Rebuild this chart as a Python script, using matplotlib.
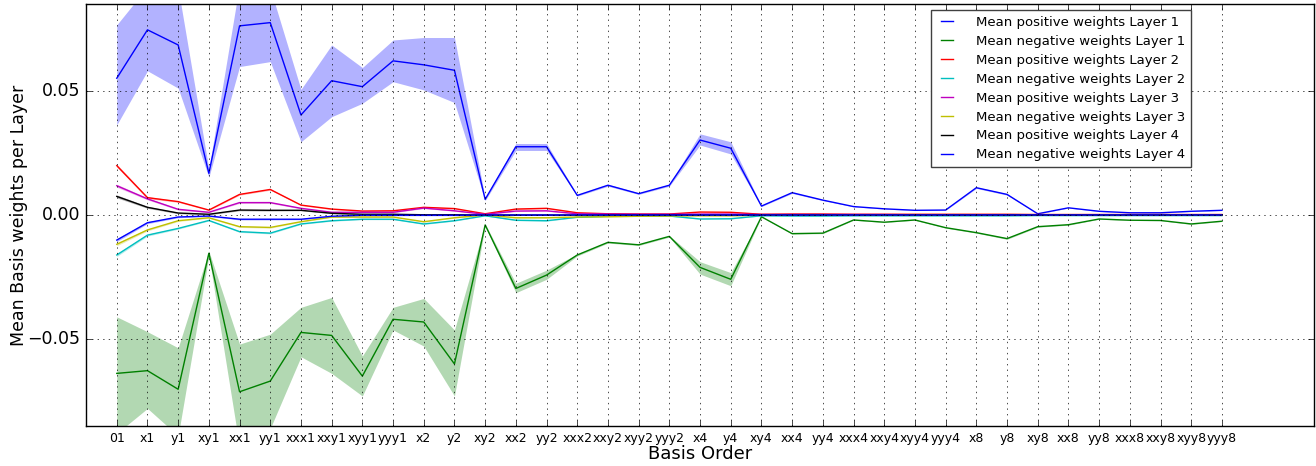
import matplotlib
matplotlib.use('Agg')
import matplotlib.pyplot as plt
import numpy as np

# Basis order labels (x axis)
cats = ['01', 'x1', 'y1', 'xy1', 'xx1', 'yy1', 'xxx1', 'xxy1', 'xyy1', 'yyy1',
        'x2', 'y2', 'xy2', 'xx2', 'yy2', 'xxx2', 'xxy2', 'xyy2', 'yyy2',
        'x4', 'y4', 'xy4', 'xx4', 'yy4', 'xxx4', 'xxy4', 'xyy4', 'yyy4',
        'x8', 'y8', 'xy8', 'xx8', 'yy8', 'xxx8', 'xxy8', 'xyy8', 'yyy8']

# Layer 1 means and band edges
pos1 = [0.0551, 0.0746, 0.0685, 0.0168, 0.0762, 0.0775, 0.0403, 0.0541, 0.0517, 0.0621,
        0.0605, 0.0583, 0.0063, 0.0275, 0.0275, 0.0079, 0.0120, 0.0086, 0.0120,
        0.0302, 0.0269, 0.0036, 0.0090, 0.0060, 0.0034, 0.0025, 0.0019, 0.0020,
        0.0110, 0.0083, 0.0005, 0.0029, 0.0015, 0.0009, 0.0009, 0.0015, 0.0019]
pos1_hi = [0.0766, 0.0919, 0.0914, 0.0185, 0.0930, 0.0913, 0.0506, 0.0685, 0.0594, 0.0705,
           0.0715, 0.0715, 0.0068, 0.0288, 0.0288, 0.0082, 0.0124, 0.0089, 0.0124,
           0.0327, 0.0295, 0.0038, 0.0093, 0.0062, 0.0035, 0.0026, 0.0020, 0.0021,
           0.0113, 0.0086, 0.0006, 0.0030, 0.0016, 0.0010, 0.0010, 0.0016, 0.0020]
pos1_lo = [0.0363, 0.0581, 0.0511, 0.0152, 0.0598, 0.0618, 0.0295, 0.0396, 0.0450, 0.0537,
           0.0504, 0.0453, 0.0058, 0.0260, 0.0260, 0.0076, 0.0116, 0.0083, 0.0116,
           0.0282, 0.0246, 0.0034, 0.0087, 0.0058, 0.0033, 0.0024, 0.0018, 0.0019,
           0.0107, 0.0080, 0.0004, 0.0028, 0.0014, 0.0008, 0.0008, 0.0014, 0.0018]

neg1 = [-0.0638, -0.0627, -0.0702, -0.0154, -0.0712, -0.0669, -0.0473, -0.0485, -0.0649, -0.0420,
        -0.0431, -0.0600, -0.0040, -0.0296, -0.0242, -0.0161, -0.0110, -0.0120, -0.0086,
        -0.0211, -0.0259, -0.0007, -0.0075, -0.0073, -0.0020, -0.0029, -0.0020, -0.0051,
        -0.0071, -0.0095, -0.0047, -0.0039, -0.0016, -0.0021, -0.0022, -0.0036, -0.0025]
neg1_hi = [-0.0410, -0.0470, -0.0535, -0.0145, -0.0520, -0.0480, -0.0372, -0.0332, -0.0568, -0.0372,
           -0.0336, -0.0463, -0.0035, -0.0275, -0.0222, -0.0157, -0.0107, -0.0117, -0.0083,
           -0.0188, -0.0232, -0.0006, -0.0073, -0.0071, -0.0019, -0.0028, -0.0019, -0.0049,
           -0.0069, -0.0092, -0.0045, -0.0037, -0.0015, -0.0020, -0.0021, -0.0034, -0.0024]
neg1_lo = [-0.0880, -0.0779, -0.0890, -0.0165, -0.0935, -0.0860, -0.0571, -0.0638, -0.0729, -0.0463,
           -0.0528, -0.0729, -0.0045, -0.0313, -0.0259, -0.0165, -0.0113, -0.0123, -0.0089,
           -0.0238, -0.0285, -0.0008, -0.0077, -0.0075, -0.0021, -0.0030, -0.0021, -0.0053,
           -0.0073, -0.0098, -0.0049, -0.0041, -0.0017, -0.0022, -0.0023, -0.0038, -0.0026]

# Layers 2-4
pos2 = [0.0199, 0.0070, 0.0054, 0.0020, 0.0083, 0.0103, 0.0040, 0.0024, 0.0016, 0.0017,
        0.0031, 0.0026, 0.0005, 0.0024, 0.0027, 0.0009, 0.0005, 0.0004, 0.0004,
        0.0012, 0.0011, 0.0003, 0.0004, 0.0004, 0.0003, 0.0003, 0.0003, 0.0003,
        0.0003, 0.0003, 0.0002, 0.0002, 0.0002, 0.0002, 0.0002, 0.0002, 0.0002]
neg2 = [-0.0161, -0.0081, -0.0054, -0.0022, -0.0067, -0.0073, -0.0036, -0.0023, -0.0017, -0.0017,
        -0.0036, -0.0023, -0.0003, -0.0021, -0.0023, -0.0009, -0.0005, -0.0004, -0.0004,
        -0.0016, -0.0015, -0.0003, -0.0004, -0.0004, -0.0003, -0.0003, -0.0003, -0.0003,
        -0.0003, -0.0003, -0.0002, -0.0002, -0.0002, -0.0002, -0.0002, -0.0002, -0.0002]
pos3 = [0.0118, 0.0065, 0.0023, 0.0011, 0.0050, 0.0050, 0.0027, 0.0011, 0.0011, 0.0011,
        0.0028, 0.0017, 0.0003, 0.0016, 0.0017, 0.0005, 0.0004, 0.0003, 0.0003,
        0.0004, 0.0004, 0.0002, 0.0002, 0.0002, 0.0002, 0.0002, 0.0001, 0.0001,
        0.0001, 0.0001, 0.0001, 0.0001, 0.0001, 0.0001, 0.0001, 0.0001, 0.0001]
neg3 = [-0.0118, -0.0060, -0.0023, -0.0011, -0.0047, -0.0050, -0.0027, -0.0008, -0.0008, -0.0008,
        -0.0027, -0.0011, 0.0000, -0.0011, -0.0011, -0.0008, -0.0007, -0.0005, -0.0004,
        -0.0003, -0.0003, -0.0001, -0.0001, -0.0001, -0.0001, -0.0001, -0.0001, -0.0001,
        -0.0001, -0.0001, -0.0001, -0.0001, -0.0001, -0.0001, -0.0001, -0.0001, -0.0001]
pos4 = [0.0075, 0.0031, 0.0008, 0.0003, 0.0020, 0.0019, 0.0019, 0.0007, 0.0003, 0.0003,
        0.0001, 0.0001, 0.0000, 0.0000, 0.0000, 0.0000, 0.0000, 0.0000, 0.0000,
        0.0000, 0.0000, 0.0000, 0.0000, 0.0000, 0.0000, 0.0000, 0.0000, 0.0000,
        0.0000, 0.0000, 0.0000, 0.0000, 0.0000, 0.0000, 0.0000, 0.0000, 0.0000]
neg4 = [-0.0101, -0.0031, -0.0008, -0.0004, -0.0017, -0.0017, -0.0017, -0.0005, -0.0001, -0.0001,
        -0.0001, -0.0001, 0.0000, 0.0000, 0.0000, 0.0000, 0.0000, 0.0000, 0.0000,
        0.0000, 0.0000, 0.0000, 0.0000, 0.0000, 0.0000, 0.0000, 0.0000, 0.0000,
        0.0000, 0.0000, 0.0000, 0.0000, 0.0000, 0.0000, 0.0000, 0.0000, 0.0000]
# spread of the faint bands around layers 2-4
spread_small = [0.0006, 0.0004, 0.0003, 0.0002, 0.0003, 0.0003, 0.0002, 0.0002, 0.0002, 0.0002,
                0.0002, 0.0002, 0.0001, 0.0002, 0.0002, 0.0001, 0.0001, 0.0001, 0.0001,
                0.0001, 0.0001, 0.0001, 0.0001, 0.0001, 0.0001, 0.0001, 0.0001, 0.0001,
                0.0001, 0.0001, 0.0001, 0.0001, 0.0001, 0.0001, 0.0001, 0.0001, 0.0001]

plt.style.use('classic')
fig = plt.figure(figsize=(13.16, 4.66), dpi=100, facecolor='white')
ax = fig.add_axes([0.0654, 0.0858, 0.9331, 0.9056])

x = np.arange(len(cats))
sp = np.array(spread_small)

series = [
    (pos1, pos1_lo, pos1_hi, 'b', 'Mean positive weights Layer 1'),
    (neg1, neg1_lo, neg1_hi, 'g', 'Mean negative weights Layer 1'),
    (pos2, None, None, 'r', 'Mean positive weights Layer 2'),
    (neg2, None, None, 'c', 'Mean negative weights Layer 2'),
    (pos3, None, None, 'm', 'Mean positive weights Layer 3'),
    (neg3, None, None, 'y', 'Mean negative weights Layer 3'),
    (pos4, None, None, 'k', 'Mean positive weights Layer 4'),
    (neg4, None, None, 'b', 'Mean negative weights Layer 4'),
]
for mean, lo, hi, c, lab in series:
    m = np.array(mean)
    if lo is None:
        lo = m - sp
        hi = m + sp
    ax.plot(x, m, color=c, lw=1, label=lab)
    ax.fill_between(x, lo, hi, color=c, alpha=0.3, lw=0)

ax.set_xlim(-1, 39)
ax.set_ylim(-0.085, 0.085)
ax.set_yticks([-0.05, 0.0, 0.05])
ax.set_yticklabels(['\u22120.05', '0.00', '0.05'])
ax.set_xticks(x)
ax.set_xticklabels(cats)
ax.tick_params(axis='x', labelsize=9)
ax.tick_params(axis='y', labelsize=12.5)
ax.grid(True, ls=':', color='k')
ax.set_xlabel('Basis Order', fontsize=13, labelpad=0)
ax.set_ylabel('Mean Basis weights per Layer', fontsize=12.5, labelpad=0)

leg = ax.legend(loc='upper left', bbox_to_anchor=(0.688, 0.986), borderaxespad=0,
                fontsize=9.5, handlelength=1.5, handletextpad=1.45, labelspacing=0.45,
                borderpad=0.45)
leg.get_frame().set_edgecolor('0.25')

fig.savefig('out.png', dpi=100, facecolor='white')
